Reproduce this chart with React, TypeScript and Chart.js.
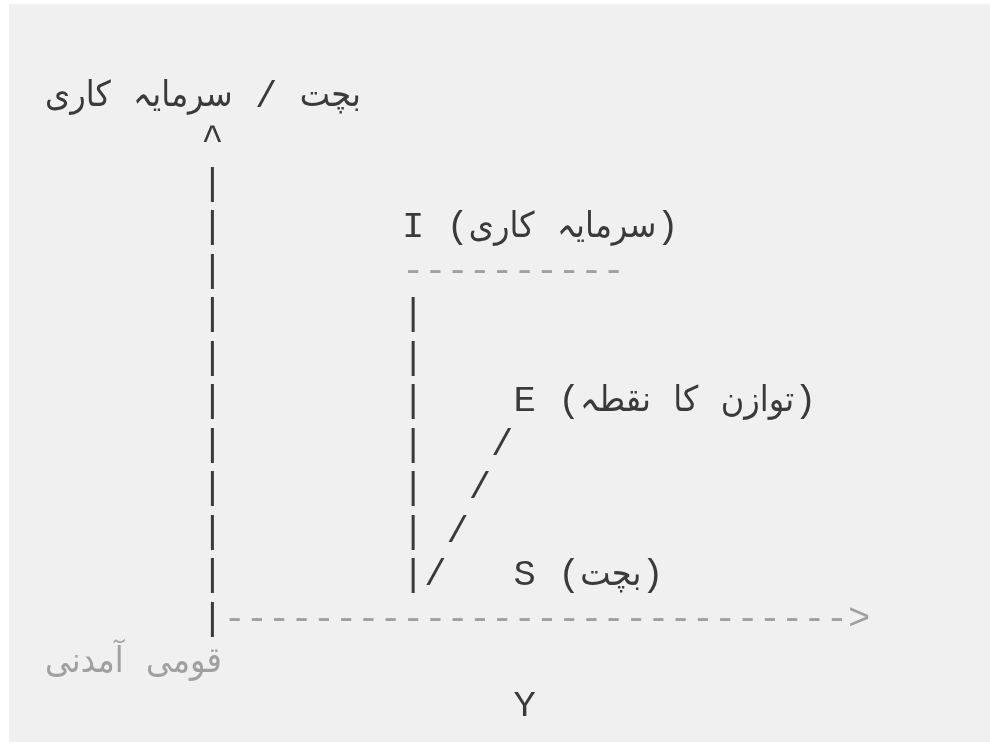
import React, { useEffect, useRef } from "react";
import { Chart, registerables } from "chart.js";

Chart.register(...registerables);

// ASCII diagram rows (each non-Arabic character occupies one monospace column)
const diagramRows: string[] = [
  "بچت / سرمایہ کاری",
  "       ^",
  "       |",
  "       |        I (سرمایہ کاری)",
  "       |        ----------",
  "       |        |",
  "       |        |",
  "       |        |    E (توازن کا نقطہ)",
  "       |        |   /",
  "       |        |  /",
  "       |        | /",
  "       |        |/   S (بچت)",
  "       |---------------------------->",
  "قومی آمدنی",
  "                     Y",
];

// rows drawn entirely in the muted colour
const mutedRows: number[] = [13];
// characters drawn in the muted colour
const mutedChars: string[] = ["-", ">"];

// column / row extents of the grid
const columnRange: number[] = [-2.02, 42.37];
const rowRange: number[] = [-2.23, 15.03];

const TEXT_COLOR = "#3a3a3a";
const MUTED_COLOR = "#a0a0a0";
const MONO_FONT = "'Liberation Mono', 'DejaVu Sans Mono', monospace";
const ARABIC_FONT = "'DejaVu Sans', sans-serif";
const ARABIC_SIZE_RATIO = 0.95; // relative to the monospace font size
const ARABIC_STRETCH = 0.91; // horizontal compression of Arabic words

type Token = { text: string; ar: boolean; dir: "L" | "R" | "N" };

const isArabic = (c: string) => /[\u0600-\u06FF]/.test(c);

function visualTokens(row: string): Token[] {
  const chars = Array.from(row);
  const toks: Token[] = [];
  let i = 0;
  while (i < chars.length) {
    if (isArabic(chars[i])) {
      let w = "";
      while (i < chars.length && isArabic(chars[i])) w += chars[i++];
      toks.push({ text: w, ar: true, dir: "R" });
    } else {
      const c = chars[i++];
      toks.push({ text: c, ar: false, dir: /[A-Za-z0-9]/.test(c) ? "L" : "N" });
    }
  }
  // resolve neutrals (LTR paragraph): between two R -> R, otherwise L
  const resolved = toks.map((t, k) => {
    if (t.dir !== "N") return t.dir;
    let p = k - 1;
    while (p >= 0 && toks[p].dir === "N") p--;
    let n = k + 1;
    while (n < toks.length && toks[n].dir === "N") n++;
    const prev = p >= 0 ? toks[p].dir : "L";
    const next = n < toks.length ? toks[n].dir : "L";
    return prev === "R" && next === "R" ? "R" : "L";
  });
  const out: Token[] = [];
  let k = 0;
  while (k < toks.length) {
    if (resolved[k] === "R") {
      const group: Token[] = [];
      while (k < toks.length && resolved[k] === "R") group.push(toks[k++]);
      out.push(...group.reverse());
    } else {
      out.push(toks[k++]);
    }
  }
  return out;
}

const asciiPlugin = {
  id: "asciiDiagram",
  afterDraw(chart: any) {
    const ctx = chart.ctx as CanvasRenderingContext2D;
    const xs = chart.scales.x;
    const ys = chart.scales.y;
    const cell = xs.getPixelForValue(1) - xs.getPixelForValue(0);
    const monoSize = cell / 0.6;
    const arSize = monoSize * ARABIC_SIZE_RATIO;
    ctx.save();
    ctx.textBaseline = "middle";
    const x0 = xs.getPixelForValue(0);
    diagramRows.forEach((row, r) => {
      const py = ys.getPixelForValue(r);
      const rowMuted = mutedRows.includes(r);
      let x = x0;
      visualTokens(row).forEach((t) => {
        const color = rowMuted || mutedChars.includes(t.text) ? MUTED_COLOR : TEXT_COLOR;
        ctx.fillStyle = color;
        if (t.ar) {
          ctx.font = `${arSize.toFixed(2)}px ${ARABIC_FONT}`;
          (ctx as any).direction = "rtl";
          ctx.textAlign = "left";
          const w = ctx.measureText(t.text).width * ARABIC_STRETCH;
          ctx.save();
          ctx.translate(x, py);
          ctx.scale(ARABIC_STRETCH, 1);
          ctx.fillText(t.text, 0, 0);
          ctx.restore();
          x += w;
        } else {
          if (t.text !== " ") {
            ctx.font = `${monoSize.toFixed(2)}px ${MONO_FONT}`;
            (ctx as any).direction = "ltr";
            ctx.textAlign = "center";
            ctx.fillText(t.text, x + cell / 2, py);
          }
          x += cell;
        }
      });
    });
    ctx.restore();
  },
};

export default function App() {
  const canvasRef = useRef<HTMLCanvasElement | null>(null);

  useEffect(() => {
    document.body.style.margin = "0";
    const canvas = canvasRef.current;
    if (!canvas) return;
    const chart = new Chart(canvas, {
      type: "scatter",
      data: { datasets: [{ data: [], pointRadius: 0 }] },
      options: {
        responsive: false,
        animation: false,
        devicePixelRatio: 1,
        layout: { padding: 0 },
        plugins: { legend: { display: false }, tooltip: { enabled: false } },
        scales: {
          x: { type: "linear", min: columnRange[0], max: columnRange[1], display: false },
          y: { type: "linear", min: rowRange[0], max: rowRange[1], reverse: true, display: false },
        },
      },
      plugins: [asciiPlugin],
    });
    return () => chart.destroy();
  }, []);

  return (
    <div style={{ position: "fixed", left: 0, top: 0, width: 990, height: 751, background: "#ffffff" }}>
      <div style={{ position: "absolute", left: 9, top: 4, width: 981, height: 738, background: "#f0f0f0" }} />
      <canvas ref={canvasRef} width={990} height={751} style={{ position: "absolute", left: 0, top: 0 }} />
    </div>
  );
}
